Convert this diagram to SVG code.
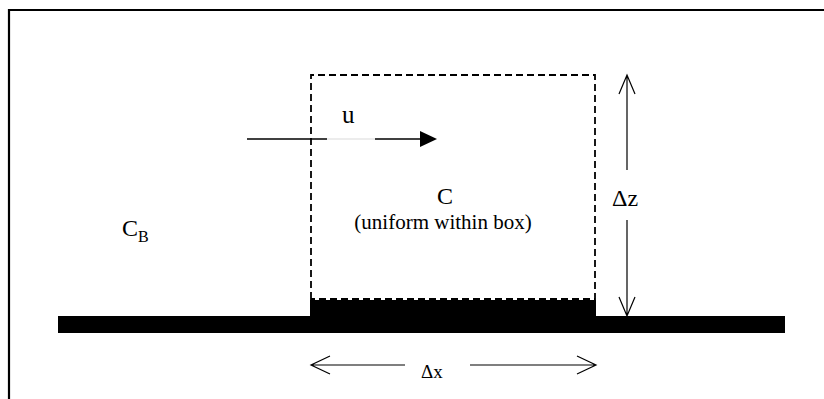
<svg xmlns="http://www.w3.org/2000/svg" width="824" height="399" viewBox="0 0 824 399">
<style>
text{font-family:"Liberation Serif","Times New Roman",serif;fill:#000}
.thin{stroke:#000;stroke-width:1.2;fill:none}
.dash{stroke:#000;stroke-width:1.8;fill:none;stroke-dasharray:7,4}
</style>
<rect width="824" height="399" fill="#fff"/>
<g id="frame"><path d="M9,10 H824 M9,9 V399" stroke="#000" stroke-width="2.2" fill="none"/></g>
<g id="ground"><rect x="58" y="316" width="727" height="17" fill="#000"/><rect x="310" y="300" width="286" height="17" fill="#000"/></g>
<g id="box"><path class="dash" d="M311,299 V75 H595 V299 Z"/></g>
<g id="labels">
<text x="342" y="123" font-size="25">u</text>
<text x="445" y="204" font-size="24" text-anchor="middle">C</text>
<text x="443" y="229" font-size="21" text-anchor="middle">(uniform within box)</text>
<text x="122" y="236" font-size="24">C<tspan font-size="16" dy="6">B</tspan></text>
<text x="612" y="206" font-size="24">Δz</text>
<text x="421" y="378" font-size="19">Δx</text>
</g>
<g id="connectors">
<path d="M247,139 H327" stroke="#000" stroke-width="1.5"/>
<path d="M327,139 H375" stroke="#e6e6e6" stroke-width="1.5"/>
<path d="M375,139 H422" stroke="#000" stroke-width="1.5"/>
<path d="M420,131 L437,139 L420,147 Z" fill="#000"/>
<path class="thin" d="M627,76 V170 M627,220 V315 M619,94 L627,75 L635,94 M619,297 L627,316 L635,297"/>
<path class="thin" d="M311,365 H405 M470,365 H595 M330,356 L311,365 L330,374 M577,356 L596,365 L577,374"/>
</g>
</svg>
